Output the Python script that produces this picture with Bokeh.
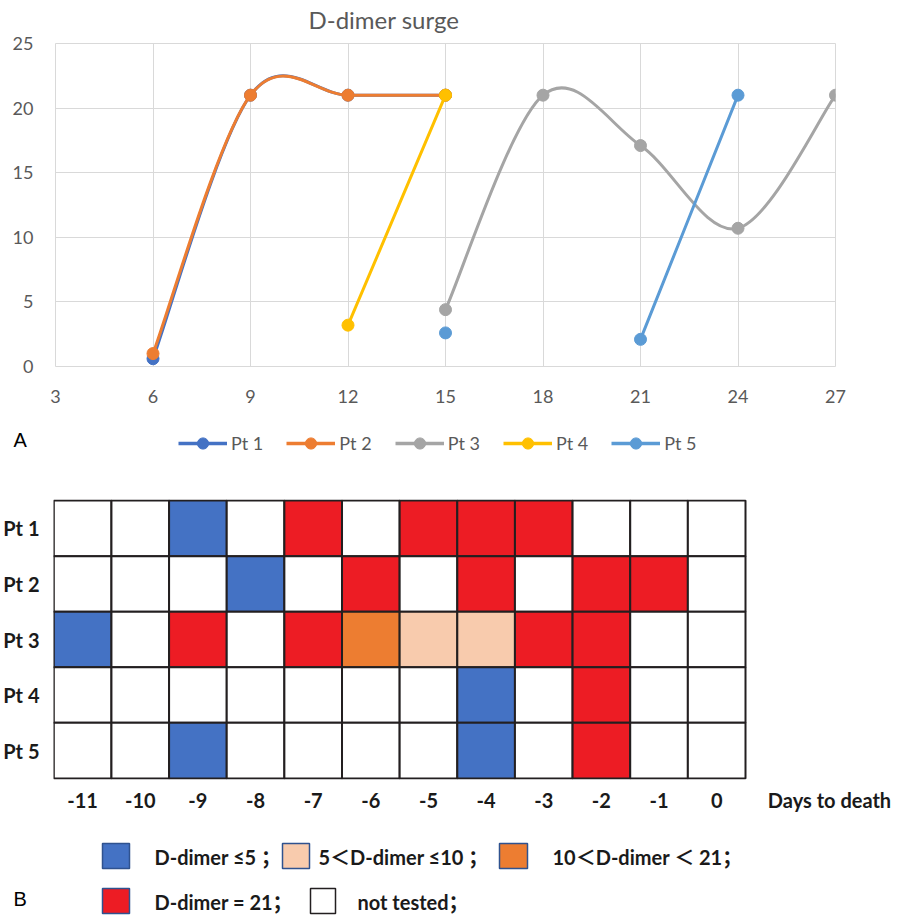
from bokeh.plotting import figure
from bokeh.models import (ColumnDataSource, Range1d, FixedTicker, Legend, LegendItem,
                          FactorRange, Title)
from bokeh.embed import file_html
from bokeh.resources import INLINE
from bokeh.core.properties import value

# ---------------- Panel A data ----------------
x_values = [6, 9, 12, 15, 18, 21, 24, 27]
pt1 = [0.6, 21, 21, 21, None, None, None, None]
pt2 = [1.0, 21, 21, 21, None, None, None, None]
pt3 = [None, None, None, 4.4, 21, 17.1, 10.7, 21]
pt4 = [None, None, 3.2, 21, None, None, None, None]
pt5 = [None, None, None, 2.6, None, 2.1, 21, None]
series_names = ["Pt 1", "Pt 2", "Pt 3", "Pt 4", "Pt 5"]
series_values = [pt1, pt2, pt3, pt4, pt5]
series_colors = ["#4472C4", "#ED7D31", "#A5A5A5", "#FFC000", "#5B9BD5"]
x_ticks = [3, 6, 9, 12, 15, 18, 21, 24, 27]
y_ticks = [0, 5, 10, 15, 20, 25]

# ---------------- Panel B data ----------------
days = [-11, -10, -9, -8, -7, -6, -5, -4, -3, -2, -1, 0]
day_labels = ["-11", "-10", "-9", "-8", "-7", "-6", "-5", "-4", "-3", "-2", "-1", "0"]
axis_title = "Days to death"
patients = ["Pt 1", "Pt 2", "Pt 3", "Pt 4", "Pt 5"]
# L: <=5, M: 5-10, H: 10-21, S: =21, N: not tested
status_pt1 = ["N", "N", "L", "N", "S", "N", "S", "S", "S", "N", "N", "N"]
status_pt2 = ["N", "N", "N", "L", "N", "S", "N", "S", "N", "S", "S", "N"]
status_pt3 = ["L", "N", "S", "N", "S", "H", "M", "M", "S", "S", "N", "N"]
status_pt4 = ["N", "N", "N", "N", "N", "N", "N", "L", "N", "S", "N", "N"]
status_pt5 = ["N", "N", "L", "N", "N", "N", "N", "L", "N", "S", "N", "N"]
status_rows = [status_pt1, status_pt2, status_pt3, status_pt4, status_pt5]
status_codes = ["L", "M", "H", "S", "N"]
status_colors = ["#4472C4", "#F8CBAD", "#ED7D31", "#ED1C24", "#FFFFFF"]
status_labels = ["D-dimer ≤5 ；", "5＜D-dimer ≤10 ；", "10＜D-dimer ＜ 21；",
                 "D-dimer = 21；", "not tested；"]

FONT = "Lato"
LEG_FONT = "Lato, 'Noto Sans CJK SC'"
GRAY = "#595959"
INK = "#1A1A1A"
NAN = float("nan")

# ---- layout: design positions are given in the reference picture's pixels
REF_W, REF_H = 897, 915
W = REF_W
cuts = [0, 418, 470, 822, REF_H]          # reference y where each stacked figure starts/ends
heights = [b - a for a, b in zip(cuts[:-1], cuts[1:])]


def cy(y_ref, fig_index):
    return y_ref - cuts[fig_index]


def smooth_segments(xs, ys):
    """Excel-like smoothed line: cubic Bezier segments between consecutive points."""
    runs, cur = [], []
    for x, y in zip(xs, ys):
        if y is None:
            if cur:
                runs.append(cur)
            cur = []
        else:
            cur.append((x, y))
    if cur:
        runs.append(cur)
    seg = dict(x0=[], y0=[], x1=[], y1=[], cx0=[], cy0=[], cx1=[], cy1=[])
    for run in runs:
        n = len(run)
        for i in range(n - 1):
            p0 = run[max(i - 1, 0)]
            p1 = run[i]
            p2 = run[i + 1]
            p3 = run[min(i + 2, n - 1)]
            seg["x0"].append(p1[0]); seg["y0"].append(p1[1])
            seg["x1"].append(p2[0]); seg["y1"].append(p2[1])
            seg["cx0"].append(p1[0] + (p2[0] - p0[0]) / 6.0)
            seg["cy0"].append(p1[1] + (p2[1] - p0[1]) / 6.0)
            seg["cx1"].append(p2[0] - (p3[0] - p1[0]) / 6.0)
            seg["cy1"].append(p2[1] - (p3[1] - p1[1]) / 6.0)
    return seg


def bare(fig):
    fig.axis.visible = False
    fig.grid.visible = False
    fig.outline_line_color = None


# ================= Panel A: line chart =================
pa_left, pa_right = 55, 835
pa_top = round(cy(43.3, 0))
pa_bottom = round(cy(366.3, 0))
p = figure(width=W, height=heights[0], x_range=Range1d(3, 27), y_range=Range1d(0, 25),
           output_backend="svg", toolbar_location=None,
           min_border_left=pa_left, min_border_right=W - pa_right,
           min_border_top=pa_top, min_border_bottom=heights[0] - pa_bottom)
p.title.text = "D-dimer surge"
p.title.align = "left"
p.title.offset = 308 - pa_left
p.title.text_font = FONT
p.title.text_font_size = "24px"
p.title.text_font_style = "normal"
p.title.text_color = GRAY
p.title.standoff = 4
# small blank band between the title and the plot area (lifts the title)
p.add_layout(Title(text=" ", text_font_size="6px", standoff=0), "above")

p.xaxis.ticker = FixedTicker(ticks=x_ticks)
p.yaxis.ticker = FixedTicker(ticks=y_ticks)
for ax in (p.xaxis, p.yaxis):
    ax.axis_line_color = None
    ax.major_tick_line_color = None
    ax.minor_tick_line_color = None
    ax.major_label_text_font = FONT
    ax.major_label_text_font_size = "18px"
    ax.major_label_text_color = GRAY
p.xaxis.major_label_standoff = 17
p.yaxis.major_label_standoff = 16
p.grid.grid_line_color = "#D9D9D9"
p.grid.grid_line_width = 1
p.outline_line_color = "#D9D9D9"
p.outline_line_width = 1

for name, vals, col in zip(series_names, series_values, series_colors):
    seg = smooth_segments(x_values, vals)
    p.bezier(x0="x0", y0="y0", x1="x1", y1="y1", cx0="cx0", cy0="cy0",
             cx1="cx1", cy1="cy1", source=ColumnDataSource(seg),
             line_color=col, line_width=3, line_cap="round")
    px = [x for x, y in zip(x_values, vals) if y is not None]
    py = [y for y in vals if y is not None]
    p.scatter(px, py, size=12, fill_color=col, line_color=col, marker="circle")

# ================= Panel A legend strip (reference-pixel coordinates) =================
pm = figure(width=W, height=heights[1], x_range=Range1d(0, REF_W),
            y_range=Range1d(cuts[2], cuts[1]),
            output_backend="svg", toolbar_location=None, min_border=0)
bare(pm)
items = []
for name, col in zip(series_names, series_colors):
    # legend samples only: a single NaN point draws nothing in the strip itself
    lr = pm.line(x=[NAN], y=[NAN], line_color=col, line_width=3.5)
    sr = pm.scatter(x=[NAN], y=[NAN], size=11, fill_color=col, line_color=col, marker="circle")
    items.append(LegendItem(label=name, renderers=[lr, sr]))
legend = Legend(items=items, orientation="horizontal",
                location=(178, cuts[2] - 457),
                glyph_width=49, glyph_height=28, label_height=28, label_standoff=4,
                spacing=23, padding=0, margin=0, border_line_color=None,
                background_fill_alpha=0, label_text_font=FONT,
                label_text_font_size="18px", label_text_color=GRAY)
pm.add_layout(legend)
pm.text(x=[13], y=[439], text=["A"], text_font=value("Liberation Sans"),
        text_font_size="20px", text_color="black", text_baseline="middle", text_align="left")

# ================= Panel B: heat grid =================
hb_left = 53
hb_top = round(cy(499, 2))
hb_bottom = round(cy(779.3, 2))
cell_px = (745 - 53.3) / len(days)
x_start = -11.5 - (53.3 - hb_left) / cell_px
x_end = x_start + (W - hb_left) / cell_px
title_pos = x_start + (829 - hb_left) / cell_px

hx, hy, hc = [], [], []
cmap = dict(zip(status_codes, status_colors))
for pt, row in zip(patients, status_rows):
    for d, s in zip(days, row):
        hx.append(d)
        hy.append(pt)
        hc.append(cmap[s])

ph = figure(width=W, height=heights[2], x_range=Range1d(x_start, x_end),
            y_range=FactorRange(*patients[::-1], range_padding=0.008), output_backend="svg",
            toolbar_location=None, min_border_left=hb_left, min_border_right=0,
            min_border_top=hb_top, min_border_bottom=heights[2] - hb_bottom)
ph.rect(x="x", y="y", width=1, height=1, source=ColumnDataSource(dict(x=hx, y=hy, c=hc)),
        fill_color="c", line_color="#231F20", line_width=2)
ph.xaxis.ticker = FixedTicker(ticks=days + [title_pos])
overrides = {d: lab for d, lab in zip(days, day_labels)}
overrides[title_pos] = axis_title
ph.xaxis.major_label_overrides = overrides
for ax in (ph.xaxis, ph.yaxis):
    ax.axis_line_color = None
    ax.major_tick_line_color = None
    ax.minor_tick_line_color = None
    ax.major_label_text_font = FONT
    ax.major_label_text_font_style = "bold"
    ax.major_label_text_font_size = "20px"
    ax.major_label_text_color = INK
ph.xaxis.major_label_standoff = 2
ph.yaxis.major_label_standoff = 8
ph.grid.visible = False
ph.outline_line_color = None

# ================= Panel B legend strip (reference-pixel coordinates) =================
pl = figure(width=W, height=heights[3], x_range=Range1d(0, REF_W),
            y_range=Range1d(cuts[4], cuts[3]),
            output_backend="svg", toolbar_location=None, min_border=0)
bare(pl)
leg_order = ["L", "M", "H", "S", "N"]
sw_left = [102, 282, 499, 102, 310]
sw_w = [27, 27, 28, 27, 25]
sw_row = [0, 0, 0, 1, 1]
txt_left = [154, 318, 552, 154, 357]
row_top = [843, 888]
sw_h = 25
border = {"L": "#2F528F", "M": "#2F528F", "H": "#2F528F", "S": "#2F528F", "N": "#231F20"}
ql, qr, qt, qb, qf, qline = [], [], [], [], [], []
tx, ty, tt = [], [], []
for code, l, w, r, t in zip(leg_order, sw_left, sw_w, sw_row, txt_left):
    ql.append(l); qr.append(l + w)
    qt.append(row_top[r]); qb.append(row_top[r] + sw_h)
    qf.append(cmap[code]); qline.append(border[code])
    tx.append(t); ty.append(row_top[r] + sw_h / 2 + 1)
    tt.append(status_labels[status_codes.index(code)])
pl.quad(left=ql, right=qr, top=qt, bottom=qb, fill_color=qf, line_color=qline, line_width=1.5)
pl.text(x=tx, y=ty, text=tt, text_font=value(LEG_FONT), text_font_style="bold",
        text_font_size="20px", text_color=INK, text_baseline="middle", text_align="left")
pl.text(x=[13], y=[898], text=["B"], text_font=value("Liberation Sans"),
        text_font_size="20px", text_color="black", text_baseline="middle", text_align="left")

open("out.html", "w").write(file_html([p, pm, ph, pl], INLINE))
